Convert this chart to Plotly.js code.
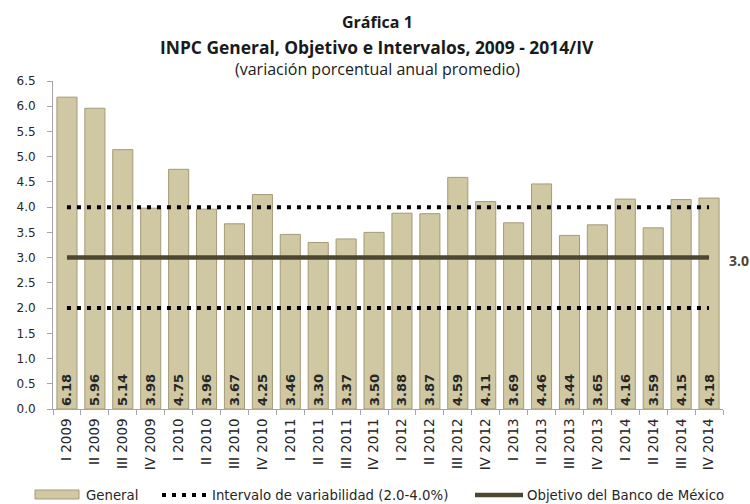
<!DOCTYPE html>
<html><head><meta charset="utf-8">
<script src="https://cdn.plot.ly/plotly-3.0.1.min.js"></script>
<style>body{margin:0;background:#fff}#c{width:750px;height:504px}</style>
</head><body><div id="c"></div>
<script>
var categories = ["I 2009","II 2009","III 2009","IV 2009","I 2010","II 2010","III 2010","IV 2010","I 2011","II 2011","III 2011","IV 2011","I 2012","II 2012","III 2012","IV 2012","I 2013","II 2013","III 2013","IV 2013","I 2014","II 2014","III 2014","IV 2014"];
var general = [6.18,5.96,5.14,3.98,4.75,3.96,3.67,4.25,3.46,3.30,3.37,3.50,3.88,3.87,4.59,4.11,3.69,4.46,3.44,3.65,4.16,3.59,4.15,4.18];
var upperBound = 4.0, lowerBound = 2.0, target = 3.0;
var yTicks = [0,0.5,1,1.5,2,2.5,3,3.5,4,4.5,5,5.5,6,6.5];
var legendNames = ["General","Intervalo de variabilidad (2.0-4.0%)","Objetivo del Banco de México"];

var sans = "DejaVu Sans, Verdana, sans-serif";
var titleFont = "Open Sans, Arial, sans-serif";
var barColor = "#cfc8a2", barEdge = "#a39b78", lineColor = "#4d4731";

// plot area in pixels
var L = 53, R = 723, T = 81, B = 409;
function px(x){ return (x - L) / (R - L); }
function py(y){ return (B - y) / (B - T); }

var traces = [
  {type:"bar", name:legendNames[0], x:categories, y:general,
   text:general.map(function(v){return v.toFixed(2);}), textposition:"inside",
   insidetextanchor:"start", textangle:-90, constraintext:"none",
   textfont:{family:sans, size:13, color:"#262626", weight:"bold"},
   marker:{color:barColor, line:{color:barEdge, width:1}}, hoverinfo:"none", showlegend:false},
  {type:"scatter", mode:"lines", name:legendNames[1], x:categories,
   y:categories.map(function(){return upperBound;}),
   line:{color:"#000", width:4, dash:"4px,6px"}, hoverinfo:"none", showlegend:false},
  {type:"scatter", mode:"lines", name:"Intervalo inferior", x:categories,
   y:categories.map(function(){return lowerBound;}),
   line:{color:"#000", width:4, dash:"4px,6px"}, hoverinfo:"none", showlegend:false},
  {type:"scatter", mode:"lines", name:legendNames[2], x:categories,
   y:categories.map(function(){return target;}),
   line:{color:lineColor, width:4.5}, hoverinfo:"none", showlegend:false}
];

var legY = 495;
var shapes = [
  {type:"rect", xref:"paper", yref:"paper", x0:px(35), x1:px(79), y0:py(499), y1:py(490),
   fillcolor:barColor, line:{color:barEdge, width:1}},
  {type:"line", xref:"paper", yref:"paper", x0:px(162), x1:px(208), y0:py(legY), y1:py(legY),
   line:{color:"#000", width:4, dash:"4px,6px"}},
  {type:"line", xref:"paper", yref:"paper", x0:px(475), x1:px(523), y0:py(legY), y1:py(legY),
   line:{color:lineColor, width:4.5}}
];

function legText(t, x){
  return {xref:"paper", yref:"paper", x:px(x), y:py(legY), xanchor:"left", yanchor:"middle",
          showarrow:false, text:t, font:{family:sans, size:13.3, color:"#262626"}};
}
function titleLine(t, yPix, size){
  return {xref:"paper", yref:"paper", x:px(377), y:py(yPix), yanchor:"middle", xanchor:"center",
          showarrow:false, text:t, font:{family:titleFont, size:size, color:"#1a1a1a"}};
}

var layout = {
  width:750, height:504, paper_bgcolor:"#fff", plot_bgcolor:"#fff",
  margin:{l:L, r:750-R, t:T, b:504-B},
  bargap:0.28, showlegend:false,
  font:{family:sans, size:12, color:"#262626"},
  xaxis:{type:"category", tickangle:-90, showline:true, linecolor:"#a6a6a6", linewidth:1,
         ticks:"outside", tickcolor:"#a6a6a6", ticklen:5, tickson:"boundaries",
         ticklabelstandoff:3, automargin:false,
         showgrid:false, zeroline:false, tickfont:{family:sans, size:13.5, color:"#262626"}},
  yaxis:{range:[0,6.5], tickvals:yTicks, tickformat:".1f", showline:true, linecolor:"#a6a6a6",
         linewidth:1, ticks:"outside", tickcolor:"#a6a6a6", ticklen:5, showgrid:false,
         ticklabelstandoff:9, automargin:false,
         zeroline:false, tickfont:{family:sans, size:12, color:"#262626"}},
  shapes:shapes,
  annotations:[
    titleLine("<b>Gráfica 1</b>", 22, 16),
    titleLine("<b>INPC General, Objetivo e Intervalos, 2009 - 2014/IV</b>", 47, 17.4),
    titleLine("(variación porcentual anual promedio)", 69, 16),
    {xref:"paper", yref:"y", x:1, xshift:4, y:target, yshift:-3, showarrow:false, xanchor:"left",
     text:"<b>"+target.toFixed(1)+"</b>", font:{family:titleFont, size:14, color:lineColor}},
    legText(legendNames[0], 84),
    legText(legendNames[1], 210),
    legText(legendNames[2], 525)
  ]
};
Plotly.newPlot("c", traces, layout, {displayModeBar:false, staticPlot:true});
</script></body></html>
